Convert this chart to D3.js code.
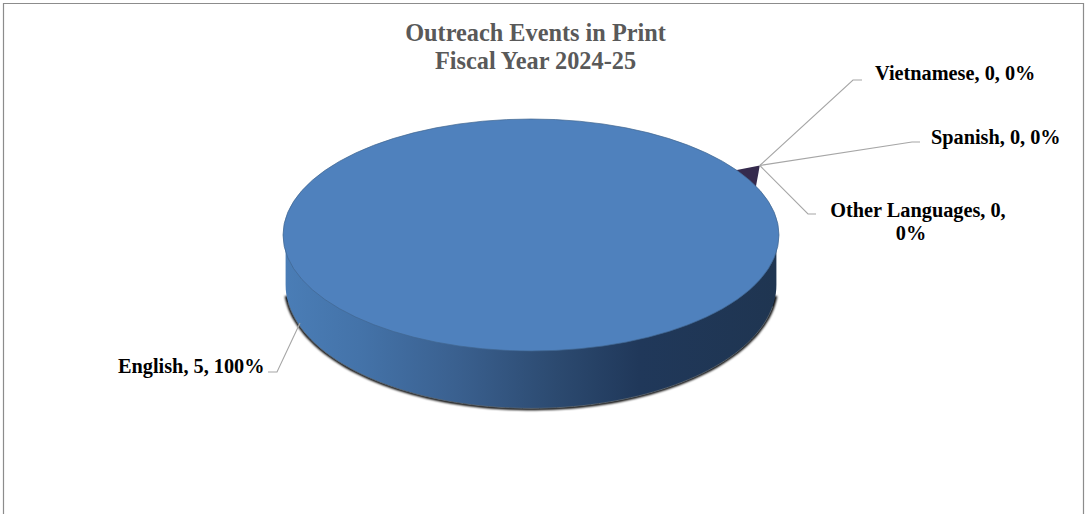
<!DOCTYPE html>
<html><head><meta charset="utf-8">
<script src="https://cdnjs.cloudflare.com/ajax/libs/d3/7.8.5/d3.min.js"></script>
<style>html,body{margin:0;padding:0;background:#fff}svg{display:block}text{font-family:"Liberation Serif",serif;font-weight:bold}</style>
</head><body><div id="chart"></div>
<script>
const categories=["English","Vietnamese","Spanish","Other Languages"];
const values=[5,0,0,0];
const percents=["100%","0%","0%","0%"];
const titleLines=["Outreach Events in Print","Fiscal Year 2024-25"];
const colors=["#4f81bd","#352a4d","#352a4d","#352a4d"];

const W=1087,H=514,cx=531,cy=235,rx=248,ry=116;
const baseCy=285,baseRy=124,baseRx=246;
const svg=d3.select("#chart").append("svg").attr("width",W).attr("height",H);
const defs=svg.append("defs");
const g=defs.append("linearGradient").attr("id","wall").attr("x1",0).attr("x2",1).attr("y1",0).attr("y2",0);
[[0,"#4a7db6"],[.15,"#4473a9"],[.35,"#3a608f"],[.55,"#2c4a70"],[.72,"#20385a"],[1,"#1f3551"]]
 .forEach(([o,c])=>g.append("stop").attr("offset",o).attr("stop-color",c));
defs.append("filter").attr("id","blur").attr("x","-5%").attr("y","-5%").attr("width","110%").attr("height","110%")
  .append("feGaussianBlur").attr("stdDeviation",1.3);

svg.append("path").attr("d",`M3.5,${H}V3.5H1083.5V${H}`).attr("fill","none").attr("stroke","#8c8c8c").attr("stroke-width",1.2);

svg.append("g").selectAll("text").data(titleLines).join("text")
  .attr("x",535.5).attr("y",(d,i)=>41+i*28).attr("text-anchor","middle")
  .attr("font-size",24.3).attr("fill","#595959").text(d=>d);

// pie layout: the whole circle goes to English, starting at the zero-value wedge
const tipAngle=57*Math.PI/180;
const pie=d3.pie().sort(null).startAngle(tipAngle).endAngle(tipAngle+2*Math.PI);
const arcs=pie(values);
const sx=d3.scaleLinear().domain([-1,1]).range([cx-rx,cx+rx]);
const sy=d3.scaleLinear().domain([-1,1]).range([cy-ry,cy+ry]);
const px=(a,r=1)=>sx(r*Math.sin(a));
const py=(a,r=1)=>sy(-r*Math.cos(a));

// lower rim of the pie's side wall
const rim=(startDeg,endDeg,grow)=>d3.range(startDeg,endDeg+1,2).map(t=>{
  const a=t*Math.PI/180;
  return [cx+(baseRx+grow)*Math.sin(a),baseCy-(baseRy+grow)*Math.cos(a)];
});
const shadowPts=rim(95,265,1.2);
svg.append("path").attr("d",d3.line()(shadowPts)+"Z")
  .attr("fill","#000").attr("filter","url(#blur)");
const wallPts=rim(90,270,-0.6);
svg.append("path").attr("d",d3.line()(wallPts)+`L${wallPts[wallPts.length-1][0]},${cy}L${wallPts[0][0]},${cy}Z`)
  .attr("fill","url(#wall)");
svg.append("path").attr("d",d3.line()(rim(100,262,-0.6))).attr("fill","none").attr("stroke","#5c6670").attr("stroke-width",.9);

// zero-value wedge, exploded beyond the rim
const wedge=d3.line()([[px(tipAngle,1.1),py(tipAngle,1.1)],[px(tipAngle-.02,.99),py(tipAngle-.02,.99)],[px(tipAngle+.16,.99),py(tipAngle+.16,.99)]]);
svg.append("path").attr("d",wedge+"Z").attr("fill",colors[1]);

// top face
svg.append("ellipse").datum(arcs[0]).attr("cx",cx).attr("cy",cy).attr("rx",rx).attr("ry",ry)
  .attr("fill",d=>colors[d.index]).attr("stroke","#41658f").attr("stroke-width",.7);

// leader lines
const tipX=px(tipAngle,1.1),tipY=py(tipAngle,1.1);
const leaders=[
 {pts:[[300,323],[277,372],[268,372]]},
 {pts:[[tipX,tipY],[853,80],[862,80]]},
 {pts:[[tipX,tipY],[912,142],[920,142]]},
 {pts:[[tipX,tipY],[808,214],[816,214]]}
];
svg.append("g").selectAll("path").data(leaders).join("path")
  .attr("d",d=>d3.line()(d.pts)).attr("fill","none").attr("stroke","#a6a6a6").attr("stroke-width",1.1);

// labels
const lab=i=>`${categories[i]}, ${values[i]}, ${percents[i]}`;
const lbl=svg.append("g").attr("font-size",20.3).attr("fill","#000");
lbl.append("text").attr("x",118).attr("y",372.5).text(lab(0));
lbl.append("text").attr("x",875).attr("y",80).text(lab(1));
lbl.append("text").attr("x",931).attr("y",144).text(lab(2));
const o=lbl.append("text").attr("text-anchor","middle");
o.append("tspan").attr("x",918).attr("y",217).text(`${categories[3]}, ${values[3]},`);
o.append("tspan").attr("x",911).attr("y",240).text(percents[3]);
</script></body></html>
